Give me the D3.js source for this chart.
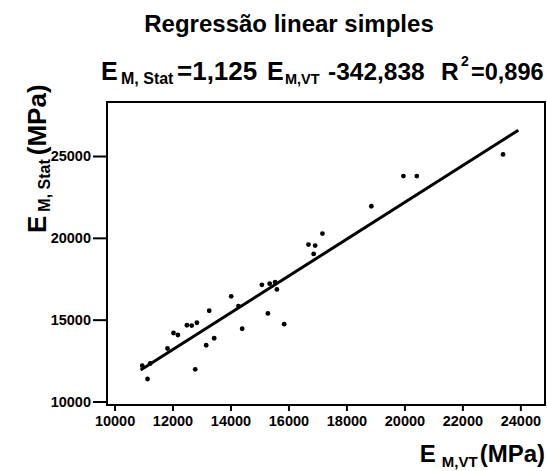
<!DOCTYPE html>
<html>
<head>
<meta charset="utf-8">
<script src="https://cdn.jsdelivr.net/npm/d3@7"></script>
<style>
body { margin: 0; background: #fff; }
svg { display: block; font-family: "Liberation Sans", Arial, sans-serif; font-weight: bold; }
</style>
</head>
<body>
<script>
// E_M,VT (x) and E_M,Stat (y)
var emVT = [10955, 11231, 11138, 11828, 12034, 12186, 12497, 12662, 12841, 12783,
    13162, 13266, 13438, 14024, 14276, 14403, 15083, 15290, 15352, 15541,
    15600, 15852, 16690, 16921, 16869, 17172, 18859, 19966, 20428, 23403];
var emStat = [12187, 12321, 11375, 13238, 14185, 14062, 14660, 14642, 14813, 11967,
    13438, 15546, 13865, 16424, 15832, 14446, 17128, 15381, 17201, 17293,
    16847, 14722, 19591, 19530, 19017, 20263, 21930, 23775, 23775, 25095];

var xTicks = [10000, 12000, 14000, 16000, 18000, 20000, 22000, 24000];
var yTicks = [10000, 15000, 20000, 25000];

// regression: y = 1,125 x - 342,838
var slope = 1.125;
var intercept = -342.838;
var fitRange = [10900, 23930];

var w = 547, h = 471;

var svg = d3.select("body")
    .append("svg")
    .attr("width", w)
    .attr("height", h);

var x = d3.scaleLinear().domain([9740, 24850]).range([107, 545]);
var y = d3.scaleLinear().domain([9786, 28300]).range([405, 102]);

// title
svg.append("text")
    .attr("x", 289)
    .attr("y", 32)
    .attr("text-anchor", "middle")
    .style("font-size", "24px")
    .text("Regressão linear simples");

// equation line, pieces placed one by one
var eqParts = [
    {t: "E", x: 101, y: 80, s: 25},
    {t: "M, Stat", x: 121, y: 84, s: 16},
    {t: "=1,125", x: 177, y: 80, s: 26},
    {t: "E", x: 267, y: 80, s: 25},
    {t: "M,VT", x: 285, y: 84, s: 14.5},
    {t: "-342,838", x: 328, y: 80, s: 24.5},
    {t: "R", x: 441, y: 80, s: 24.5},
    {t: "2", x: 461, y: 66, s: 14},
    {t: "=0,896", x: 471, y: 80, s: 23.5}
];
svg.append("g")
    .selectAll("text")
    .data(eqParts)
    .enter()
    .append("text")
    .attr("x", function(d) { return d.x; })
    .attr("y", function(d) { return d.y; })
    .style("font-size", function(d) { return d.s + "px"; })
    .text(function(d) { return d.t; });

// plot box
svg.append("rect")
    .attr("x", x.range()[0])
    .attr("y", y.range()[1])
    .attr("width", x.range()[1] - x.range()[0])
    .attr("height", y.range()[0] - y.range()[1])
    .attr("fill", "none")
    .attr("stroke", "black")
    .attr("stroke-width", 2);

// axes
svg.append("g")
    .attr("transform", "translate(0," + y.range()[0] + ")")
    .call(d3.axisBottom(x).tickValues(xTicks).tickSize(6).tickPadding(5).tickFormat(d3.format("d")));
svg.append("g")
    .attr("transform", "translate(" + x.range()[0] + ",0)")
    .call(d3.axisLeft(y).tickValues(yTicks).tickSize(14).tickPadding(2).tickFormat(d3.format("d")));

svg.selectAll(".domain").remove();
svg.selectAll(".tick line").attr("stroke", "black").attr("stroke-width", 2);
svg.selectAll(".tick text")
    .attr("fill", "black")
    .style("font-family", "'Liberation Sans', Arial, sans-serif")
    .style("font-weight", "bold")
    .style("font-size", "14.5px");

// fitted line
svg.append("line")
    .attr("x1", x(fitRange[0]))
    .attr("y1", y(slope * fitRange[0] + intercept))
    .attr("x2", x(fitRange[1]))
    .attr("y2", y(slope * fitRange[1] + intercept))
    .attr("stroke", "black")
    .attr("stroke-width", 3);

// points
svg.selectAll("circle")
    .data(emVT)
    .enter()
    .append("circle")
    .attr("cx", function(d) { return x(d); })
    .attr("cy", function(d, i) { return y(emStat[i]); })
    .attr("r", 2.4)
    .attr("fill", "black");

// x axis label
var xl = svg.append("text")
    .attr("x", 545)
    .attr("y", 462)
    .attr("text-anchor", "end")
    .style("font-size", "24px");
xl.append("tspan").text("E");
xl.append("tspan").attr("dx", 6).attr("dy", 5).style("font-size", "15px").text("M,VT");
xl.append("tspan").attr("dx", 2).attr("dy", -5).text("(MPa)");

// y axis label
var yl = svg.append("text")
    .attr("transform", "translate(46,233) rotate(-90)")
    .style("font-size", "26px");
yl.append("tspan").text("E");
yl.append("tspan").attr("dx", 4).attr("dy", 4).style("font-size", "16px").text("M, Stat");
yl.append("tspan").attr("dx", 4).attr("dy", -4).text("(MPa)");
</script>
</body>
</html>
